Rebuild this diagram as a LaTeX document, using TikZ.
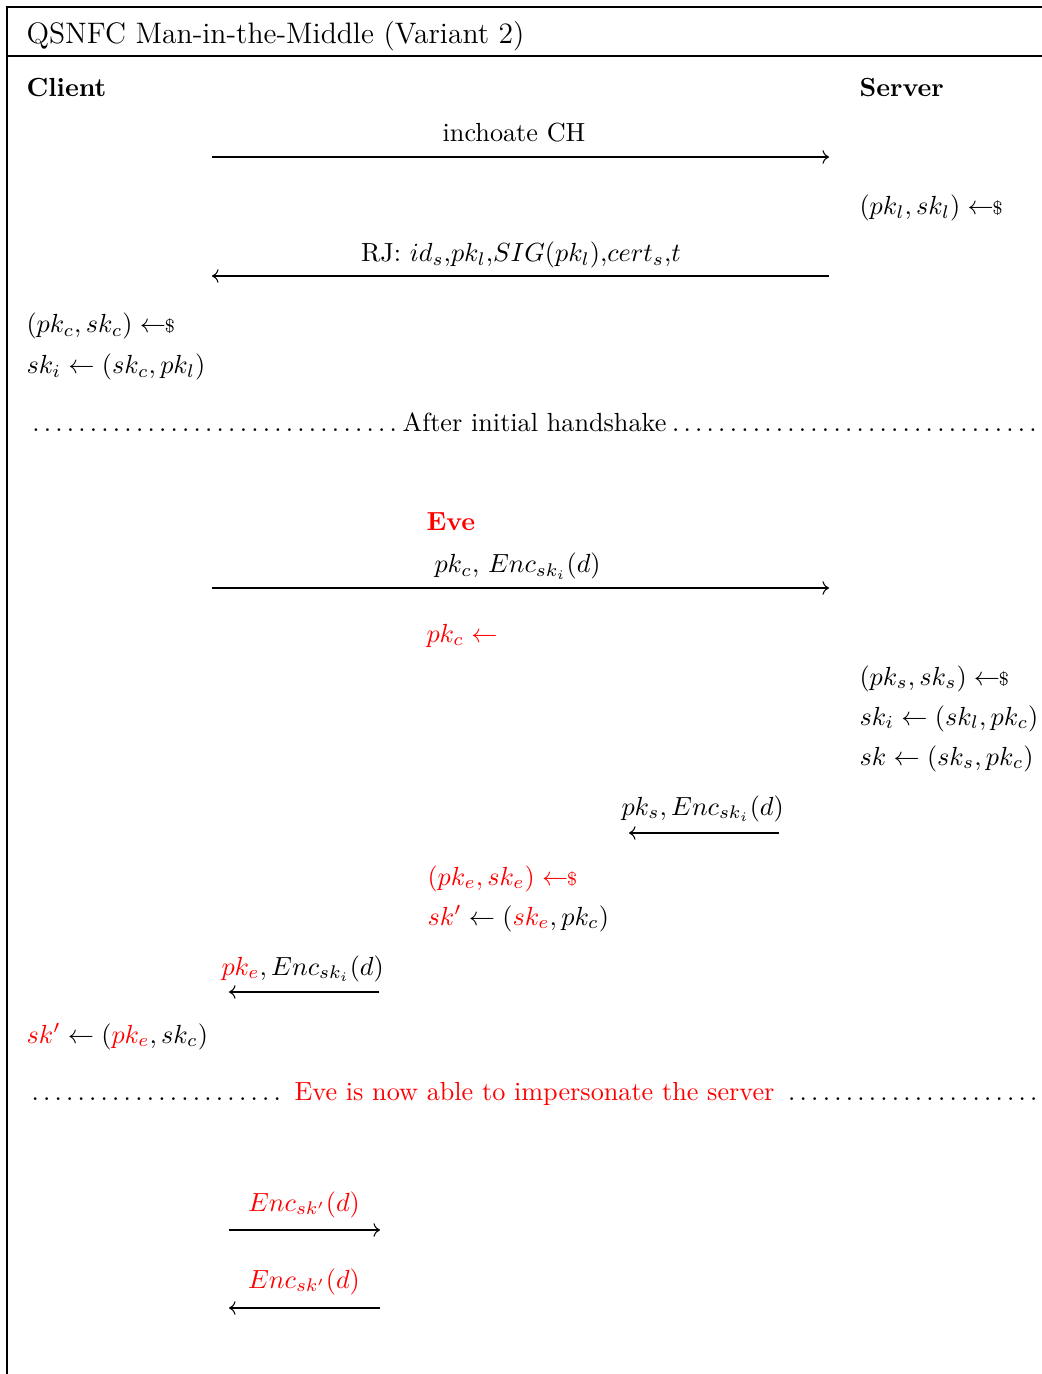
\documentclass[tikz,border=0pt]{standalone}
\usepackage{amsmath,amssymb}
\usepackage{xcolor}
\usetikzlibrary{arrows.meta,positioning,calc}
\newcommand{\amostra}{\mathrel{\leftarrow\!\!{\scriptstyle\$}}}
\tikzset{
    rotulo/.style={anchor=base west, inner sep=0pt},
    mensagem/.style={anchor=base, inner sep=0pt},
    fluxo/.style={->},
    ataque/.style={text=red},
    moldura/.style={line width=0.45pt},
    separador/.style={
        anchor=base west,
        inner sep=0pt,
        text width=387.8pt
    }
}

\begin{document}
\begin{tikzpicture}[
        x=0.3817pt, y=-0.3817pt,
        every node/.style={font=\normalsize}
    ]
    \useasboundingbox (0,0) rectangle (1042,1374);
    % moldura
    \draw[moldura] (1060,7) -- (7,7) -- (7,1390);
    \draw[moldura] (7,56) -- (1060,56);

    \node[rotulo, font=\fontsize{11.3}{13}\selectfont] (titulo) at (26,44) {QSNFC Man-in-the-Middle (Variant 2)};
    \node[rotulo, font=\bfseries] (cliente) at (26,97) {Client};
    \node[rotulo, font=\bfseries] (servidor) at (859,97) {Server};

    % handshake inicial
    \coordinate (m1a) at (212,157);
    \coordinate (m1b) at (829,157);
    \draw[fluxo] (m1a) -- (m1b);
    \node[mensagem] (m1) at (514,142) {inchoate CH};

    \node[rotulo] (chaveL) at (859,215) {$(pk_l, sk_l) \amostra$};

    \coordinate (m2a) at (829,276);
    \coordinate (m2b) at (212,276);
    \draw[fluxo] (m2a) -- (m2b);
    \node[mensagem] (m2) at (521,262) {RJ: $id_s$,$pk_l$,$SIG(pk_l)$,$cert_s$,$t$};

    \node[rotulo] (chaveC) at (26,333) {$(pk_c, sk_c) \amostra$};
    \node[rotulo] (skiC) at (26,374) {$sk_i \leftarrow (sk_c, pk_l)$};

    \node[separador] (sep1) at (26,432) {\dotfill After initial handshake\dotfill};

    % ataque
    \node[rotulo, ataque, font=\bfseries] (eve) at (426,531) {Eve};

    \coordinate (m3a) at (212,588);
    \coordinate (m3b) at (829,588);
    \draw[fluxo] (m3a) -- (m3b);
    \node[rotulo] (m3) at (434,573) {$pk_c$, $Enc_{sk_i}(d)$};

    \node[rotulo, ataque] (eveRecebe) at (426,642) {$pk_c \leftarrow$};

    \node[rotulo] (chaveS) at (859,685) {$(pk_s, sk_s) \amostra$};
    \node[rotulo] (skiS) at (859,725) {$sk_i \leftarrow (sk_l, pk_c)$};
    \node[rotulo] (skS) at (859,765) {$sk \leftarrow (sk_s, pk_c)$};

    \coordinate (m4a) at (779,833);
    \coordinate (m4b) at (629,833);
    \draw[fluxo] (m4a) -- (m4b);
    \node[rotulo] (m4) at (621,815) {$pk_s, Enc_{sk_i}(d)$};

    \node[rotulo, ataque] (chaveE) at (427,885) {$(pk_e, sk_e) \amostra$};
    \node[rotulo] (skE) at (427,925) {$\textcolor{red}{sk'} \leftarrow (\textcolor{red}{sk_e}, pk_c)$};

    \coordinate (m5a) at (379,992);
    \coordinate (m5b) at (229,992);
    \draw[fluxo] (m5a) -- (m5b);
    \node[rotulo] (m5) at (221,975) {$\textcolor{red}{pk_e}, Enc_{sk_i}(d)$};

    \node[rotulo] (skC) at (26,1043) {$\textcolor{red}{sk'} \leftarrow (\textcolor{red}{pk_e}, sk_c)$};

    \node[separador] (sep2) at (26,1100) {\dotfill{} \textcolor{red}{Eve is now able to impersonate the server} \dotfill};

    % sessao comprometida
    \coordinate (m6a) at (229,1230);
    \coordinate (m6b) at (380,1230);
    \draw[fluxo] (m6a) -- (m6b);
    \node[mensagem, ataque] (m6) at (304,1211) {$Enc_{sk'}(d)$};

    \coordinate (m7a) at (380,1308);
    \coordinate (m7b) at (229,1308);
    \draw[fluxo] (m7a) -- (m7b);
    \node[mensagem, ataque] (m7) at (304,1288) {$Enc_{sk'}(d)$};
\end{tikzpicture}
\end{document}
